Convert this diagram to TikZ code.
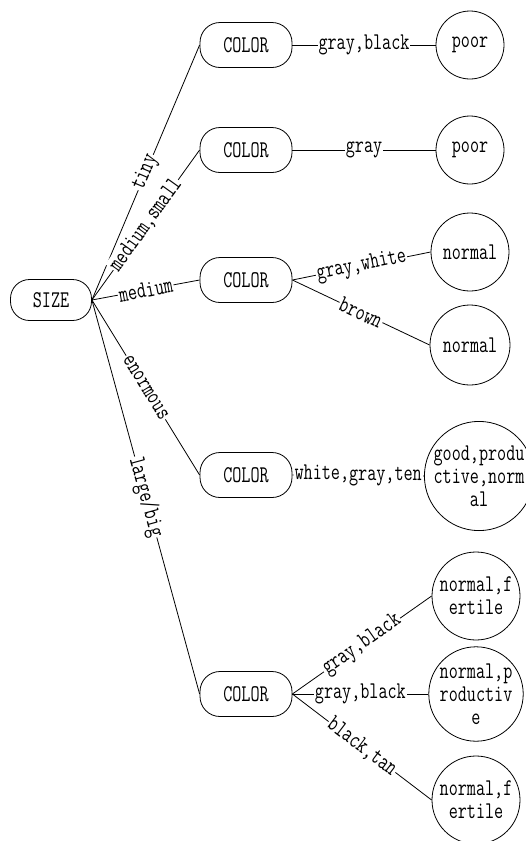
\documentclass[tikz,border=0pt]{standalone}
\usepackage{fontspec}
\setmainfont[FakeStretch=0.735]{Latin Modern Mono}
\usetikzlibrary{positioning}

\tikzset{
	attr/.style={draw,rectangle,rounded corners=20pt,line width=0.8pt,minimum width=92pt,minimum height=45pt,inner sep=0pt},
	leaf/.style={draw,circle,line width=0.8pt,inner sep=0pt,align=center,minimum size=#1},
	leaf/.default=68pt,
	branch/.style={sloped,fill=white,inner sep=1pt,midway},
	edge/.style={line width=0.8pt}
}

\begin{document}
\begin{tikzpicture}[x=1pt,y=-1pt,font=\fontsize{24pt}{23pt}\selectfont]
	\useasboundingbox (0,0) rectangle (525,841);

	% root
	\node[attr,minimum width=81pt,minimum height=41pt,rounded corners=19pt] (size) at (51,300) {SIZE};

	% second level
	\node[attr] (col1) at (246,45) {COLOR};
	\node[attr] (col2) at (246,150) {COLOR};
	\node[attr] (col3) at (246,280) {COLOR};
	\node[attr] (col4) at (246,475) {COLOR};
	\node[attr] (col5) at (246,694) {COLOR};

	% leaves
	\node[leaf] (poor1) at (470,45) {poor};
	\node[leaf] (poor2) at (470,150) {poor};
	\node[leaf=78pt] (norm1) at (470,252) {normal};
	\node[leaf=80pt] (norm2) at (470,345) {normal};
	\node[leaf=108pt] (good) at (479,476) {good,produ\\ctive,norm\\al};
	\node[leaf=88pt] (fert1) at (476,596) {normal,f\\ertile};
	\node[leaf=88pt] (prod) at (476,694) {normal,p\\roductiv\\e};
	\node[leaf=88pt] (fert2) at (476,800) {normal,f\\ertile};

	% size branches
	\draw[edge] (size.east) -- node[branch] {tiny} (col1.west);
	\draw[edge] (size.east) -- node[branch] {medium,small} (col2.west);
	\draw[edge] (size.east) -- node[branch] {medium} (col3.west);
	\draw[edge] (size.east) -- node[branch] {enormous} (col4.west);
	\draw[edge] (size.east) -- node[branch] {large/big} (col5.west);

	% color branches
	\draw[edge] (col1.east) -- node[branch] {gray,black} (poor1.west);
	\draw[edge] (col2.east) -- node[branch] {gray} (poor2.west);
	\draw[edge] (col3.east) -- node[branch] {gray,white} (norm1.west);
	\draw[edge] (col3.east) -- node[branch] {brown} (norm2.west);
	\draw[edge] (col4.east) -- node[branch] {white,gray,ten} (good.west);
	\draw[edge] (col5.east) -- node[branch] {gray,black} (fert1.west);
	\draw[edge] (col5.east) -- node[branch] {gray,black} (prod.west);
	\draw[edge] (col5.east) -- node[branch] {black,tan} (fert2.west);
\end{tikzpicture}
\end{document}
